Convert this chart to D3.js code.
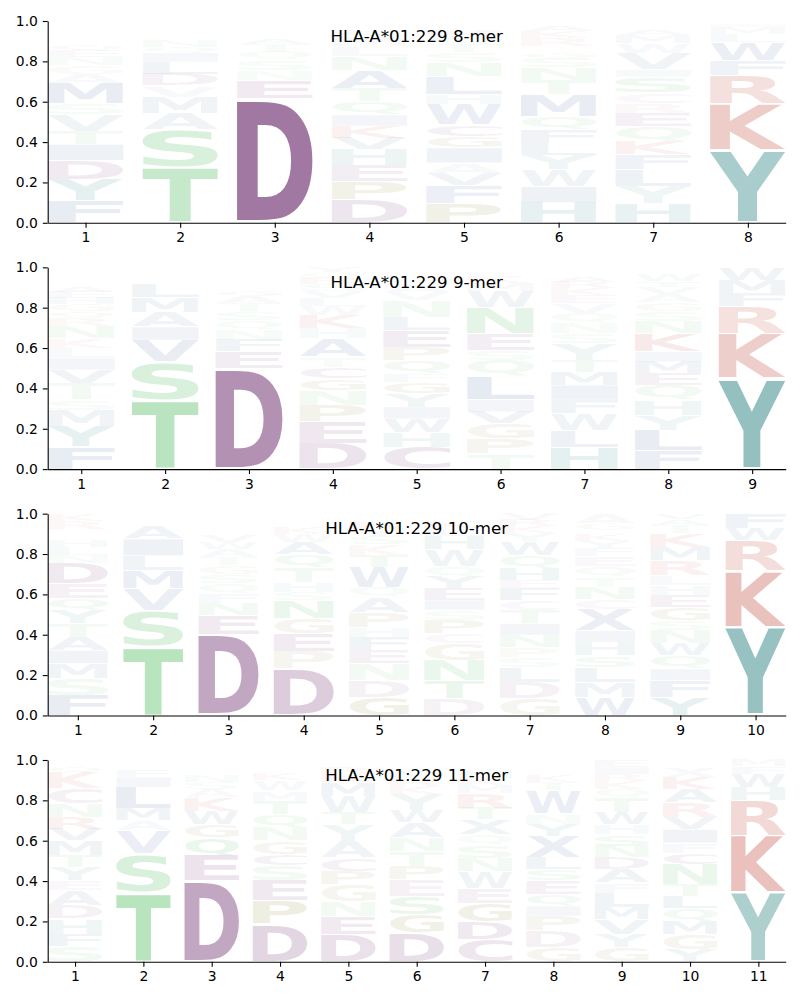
<!DOCTYPE html>
<html><head><meta charset="utf-8">
<script src="https://cdn.jsdelivr.net/npm/d3@7"></script>
<style>body{margin:0;background:#fff} svg text{font-family:"DejaVu Sans",sans-serif}</style>
</head><body><svg id="c" width="800" height="1000"></svg>
<script>
// ---- data: per position, letters stacked bottom -> top with probability ----
const titles = ["HLA-A*01:229 8-mer","HLA-A*01:229 9-mer","HLA-A*01:229 10-mer","HLA-A*01:229 11-mer"];
const yTicks = [0,0.2,0.4,0.6,0.8,1.0];

const logo8mer = [
 [["F",.11],["Y",.105],["D",.094],["I",.08],["T",.066],["V",.08],["S",.055],["M",.1],["A",.045],["G",.045],["N",.04],["E",.03],["Q",.03],["H",.025],["R",.025],["K",.02],["L",.02],["W",.015],["P",.015]],
 [["T",.274],["S",.19],["A",.08],["M",.08],["V",.055],["D",.058],["L",.06],["I",.045],["Q",.03],["N",.03],["E",.025],["G",.02],["F",.02],["C",.013],["Y",.01],["R",.01]],
 [["D",.617],["E",.09],["N",.05],["S",.05],["Q",.04],["T",.04],["A",.03],["G",.025],["L",.02],["K",.015],["R",.01],["H",.008],["F",.005]],
 [["D",.114],["P",.09],["E",.078],["H",.08],["V",.058],["K",.06],["I",.055],["Q",.066],["T",.066],["A",.09],["N",.066],["L",.05],["M",.04],["S",.035],["Y",.025],["R",.015],["G",.012]],
 [["P",.097],["F",.09],["V",.06],["A",.05],["I",.074],["G",.058],["C",.058],["W",.1],["H",.05],["L",.09],["N",.07],["S",.05],["T",.04],["Q",.035],["M",.03],["E",.025],["Y",.015],["K",.008]],
 [["H",.1],["I",.08],["W",.083],["Y",.074],["L",.058],["F",.066],["Q",.066],["M",.107],["T",.074],["N",.06],["S",.05],["G",.03],["E",.025],["R",.04],["K",.035],["A",.027],["P",.025]],
 [["H",.094],["Y",.086],["L",.083],["F",.074],["K",.066],["Q",.074],["E",.066],["R",.05],["C",.05],["S",.08],["I",.035],["V",.08],["W",.05],["M",.04],["A",.03],["N",.022],["T",.02]],
 [["Y",.361],["K",.231],["R",.14],["F",.074],["W",.09],["L",.04],["M",.035],["I",.015],["H",.008],["V",.006]]
];
const logo9mer = [
 [["F",.11],["Y",.1],["M",.083],["S",.05],["T",.083],["V",.066],["I",.058],["L",.05],["K",.05],["N",.058],["R",.04],["Q",.035],["G",.035],["H",.03],["E",.03],["A",.03],["W",.025],["C",.025],["D",.02],["P",.022]],
 [["T",.342],["S",.19],["V",.107],["I",.066],["A",.074],["M",.074],["L",.066],["F",.025],["Q",.02],["N",.02],["D",.015]],
 [["D",.5],["E",.083],["F",.058],["N",.05],["Q",.045],["S",.045],["T",.04],["A",.035],["G",.03],["K",.025],["L",.025],["W",.02],["R",.015],["H",.015],["M",.014]],
 [["D",.127],["E",.107],["P",.083],["N",.074],["G",.058],["C",.058],["T",.05],["A",.09],["H",.05],["K",.066],["W",.045],["L",.04],["V",.035],["S",.035],["R",.03],["Q",.026],["Y",.026]],
 [["C",.11],["H",.074],["W",.066],["I",.058],["Y",.066],["G",.058],["F",.04],["Q",.066],["P",.066],["E",.083],["L",.066],["N",.083],["V",.04],["A",.035],["S",.03],["K",.025],["R",.02],["T",.014]],
 [["T",.078],["P",.074],["G",.074],["V",.058],["I",.06],["L",.116],["Q",.08],["S",.05],["E",.08],["N",.13],["W",.083],["M",.04],["K",.035],["R",.025],["H",.017]],
 [["H",.11],["L",.083],["W",.083],["F",.066],["I",.074],["M",.066],["T",.058],["Y",.083],["S",.05],["N",.05],["Q",.05],["V",.05],["E",.04],["K",.035],["R",.03],["A",.03],["G",.022],["P",.02]],
 [["F",.094],["L",.1],["Y",.074],["H",.074],["Q",.074],["E",.058],["M",.058],["I",.05],["K",.09],["N",.06],["S",.05],["G",.045],["A",.04],["V",.035],["T",.03],["W",.03],["R",.025],["D",.013]],
 [["Y",.45],["K",.223],["R",.132],["F",.066],["M",.066],["W",.063]]
];
const logo10mer = [
 [["F",.1],["S",.083],["M",.074],["I",.066],["A",.066],["T",.066],["Y",.066],["Q",.058],["E",.074],["D",.1],["N",.04],["L",.04],["H",.035],["W",.025],["G",.017],["V",.015],["R",.04],["K",.035]],
 [["T",.344],["S",.177],["V",.107],["M",.09],["L",.074],["I",.083],["A",.058],["F",.025],["Q",.02],["N",.012],["D",.01]],
 [["D",.4],["E",.096],["N",.058],["F",.05],["Q",.05],["S",.045],["G",.045],["T",.04],["A",.04],["W",.035],["V",.03],["K",.025],["L",.025],["R",.02],["H",.02],["Y",.021]],
 [["D",.231],["P",.088],["E",.086],["G",.074],["N",.09],["S",.04],["H",.05],["T",.074],["Q",.066],["A",.06],["W",.04],["K",.03],["L",.025],["Y",.02],["R",.015],["M",.011]],
 [["G",.09],["D",.083],["N",.083],["E",.066],["F",.066],["H",.05],["P",.074],["A",.074],["Q",.05],["W",.1],["T",.06],["K",.05],["S",.04],["Y",.035],["R",.03],["L",.025],["M",.024]],
 [["D",.083],["T",.09],["N",.1],["G",.083],["C",.05],["P",.066],["S",.05],["I",.05],["E",.058],["Y",.058],["Q",.05],["W",.083],["H",.066],["L",.04],["K",.035],["R",.025],["A",.013]],
 [["G",.083],["D",.083],["L",.074],["S",.05],["P",.05],["N",.058],["I",.058],["T",.066],["C",.05],["F",.058],["E",.04],["H",.058],["Q",.066],["W",.07],["Y",.04],["K",.035],["R",.03],["V",.031]],
 [["W",.09],["M",.074],["L",.074],["S",.058],["H",.066],["I",.058],["X",.107],["C",.05],["N",.06],["T",.05],["Q",.05],["E",.05],["F",.04],["Y",.035],["K",.03],["R",.025],["G",.033],["A",.05]],
 [["Y",.09],["F",.083],["I",.058],["Q",.066],["W",.058],["N",.066],["S",.05],["G",.066],["E",.058],["H",.05],["L",.05],["R",.074],["M",.066],["K",.066],["T",.04],["A",.03],["V",.029]],
 [["Y",.438],["K",.28],["R",.149],["W",.058],["F",.075]]
];
const logo11mer = [
 [["S",.078],["F",.06],["H",.075],["D",.066],["A",.074],["E",.05],["Y",.066],["T",.058],["M",.074],["V",.058],["R",.058],["N",.066],["C",.074],["K",.08],["Q",.03],["L",.02],["G",.013]],
 [["T",.344],["S",.19],["V",.116],["A",.05],["M",.058],["L",.107],["I",.05],["F",.03],["Q",.02],["N",.015],["D",.01],["E",.01]],
 [["D",.4],["E",.125],["Q",.09],["G",.066],["W",.066],["K",.066],["A",.04],["S",.035],["N",.03],["T",.025],["L",.02],["R",.02],["H",.017]],
 [["D",.186],["P",.116],["E",.1],["S",.074],["C",.058],["G",.066],["N",.066],["Q",.066],["T",.066],["M",.05],["W",.05],["K",.03],["A",.025],["R",.02],["Y",.015],["L",.012]],
 [["D",.136],["E",.09],["N",.074],["G",.083],["P",.066],["C",.066],["A",.083],["Y",.083],["T",.058],["W",.083],["M",.066],["K",.04],["R",.03],["H",.025],["L",.017]],
 [["D",.145],["G",.09],["S",.09],["E",.083],["P",.066],["T",.075],["N",.066],["A",.075],["W",.058],["Y",.083],["K",.04],["R",.035],["M",.03],["L",.025],["Q",.02],["F",.019]],
 [["C",.11],["D",.09],["G",.09],["E",.074],["W",.083],["N",.066],["S",.066],["Q",.05],["X",.075],["T",.058],["R",.075],["M",.04],["K",.035],["H",.03],["A",.025],["L",.018],["F",.015]],
 [["G",.07],["D",.083],["P",.074],["I",.05],["Q",.058],["E",.066],["S",.058],["L",.058],["X",.107],["Y",.058],["N",.05],["W",.116],["T",.04],["K",.03],["H",.025],["R",.02],["M",.02],["F",.017]],
 [["G",.07],["Y",.066],["V",.074],["M",.058],["L",.074],["F",.05],["A",.066],["D",.058],["N",.058],["S",.058],["H",.05],["W",.058],["T",.075],["Q",.04],["K",.04],["R",.035],["I",.035],["E",.035]],
 [["Y",.06],["G",.074],["M",.066],["Q",.066],["L",.058],["T",.058],["N",.1],["C",.058],["F",.05],["I",.066],["V",.058],["R",.075],["A",.066],["K",.06],["X",.05],["S",.025],["W",.01]],
 [["Y",.344],["K",.282],["R",.174],["H",.066],["W",.066],["F",.035],["M",.033]]
];
const logos = [logo8mer, logo9mer, logo10mer, logo11mer];

// letter colour groups
const groupLetters = ["DEC","KR","YH","STNQ","GP","AVLIMFWX"];
const groupColors = ["#672367","#b42411","#127472","#31b043","#7a6e10","#2b4f8e"];
const color = {};
groupLetters.forEach((s,i)=>{ for (const ch of s) color[ch] = groupColors[i]; });

// ---- drawing ----
const svg = d3.select("#c");
const ctx = document.createElement("canvas").getContext("2d");
ctx.font = "bold 100px 'DejaVu Sans'";
const metrics = {};
function m(ch){
  if(!metrics[ch]){
    const t = ctx.measureText(ch);
    metrics[ch] = {l:t.actualBoundingBoxLeft, r:t.actualBoundingBoxRight, a:t.actualBoundingBoxAscent, d:t.actualBoundingBoxDescent};
  }
  return metrics[ch];
}

const left = 47.7, right = 785.7, panelH = 201.8;
logos.forEach((data, i) => {
  const top = 21 + i*246.33, bottom = top + panelH;
  const L = data.length;
  const x = d3.scaleLinear().domain([0.6, L + 0.4]).range([left, right]);
  const y = d3.scaleLinear().domain([0, 1]).range([bottom, top]);
  const g = svg.append("g");
  data.forEach((col, j) => {
    let cum = 0;
    col.forEach(([ch, v]) => {
      const y0 = cum, y1 = cum + v; cum = y1;
      const pad = 0.025 * v;
      const yb = y(y0 + pad), yt = y(y1 - pad);
      const x0 = x(j + 1 - 0.4), x1 = x(j + 1 + 0.4);
      const mm = m(ch);
      const sx = (x1 - x0) / (mm.l + mm.r), sy = (yb - yt) / (mm.a + mm.d);
      g.append("text").text(ch)
        .attr("font-weight", "bold").attr("font-size", 100)
        .attr("transform", `translate(${x0 + mm.l*sx},${yb - mm.d*sy}) scale(${sx},${sy})`)
        .attr("fill", color[ch]).attr("fill-opacity", Math.min(1, v));
    });
  });
  const ax = svg.append("g").attr("transform", `translate(${left},0)`)
    .call(d3.axisLeft(y).tickValues(yTicks).tickFormat(d3.format(".1f")).tickSize(4.9).tickPadding(4.9).tickSizeOuter(0));
  const bx = svg.append("g").attr("transform", `translate(0,${bottom})`)
    .call(d3.axisBottom(x).tickValues(d3.range(1, L + 1)).tickFormat(d3.format("d")).tickSize(4.9).tickPadding(4.9).tickSizeOuter(0));
  [ax, bx].forEach(a => {
    a.selectAll("text").attr("font-size", 13.9).attr("fill", "#000").style("font-family", "DejaVu Sans");
    a.selectAll("line").attr("stroke", "#000").attr("stroke-width", 1.1);
    a.select(".domain").attr("stroke", "#000").attr("stroke-width", 1.1);
  });
  svg.append("text").attr("x", (left + right)/2).attr("y", top + 20.7)
    .attr("text-anchor", "middle").attr("font-size", 16.67).attr("fill", "#000")
    .text(titles[i]);
});
</script>
</body></html>
